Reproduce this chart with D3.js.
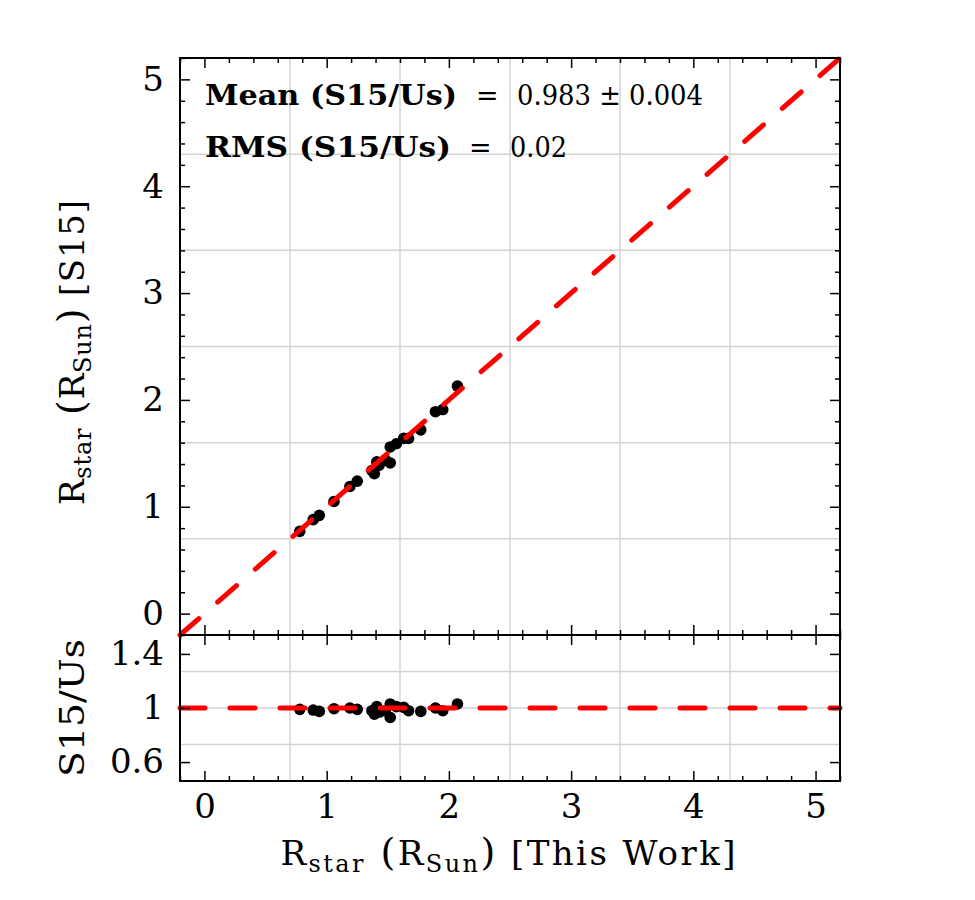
<!DOCTYPE html>
<html>
<head>
<meta charset="utf-8">
<script src="https://cdn.jsdelivr.net/npm/d3@7"></script>
<style>
  body { margin: 0; background: #fff; }
  svg { display: block; }
  text { font-family: "DejaVu Serif", "Liberation Serif", serif; fill: #000; }
</style>
</head>
<body>
<div id="chart"></div>
<script>
// Values
const rThisWork  = [0.78, 0.89, 0.94, 1.06, 1.19, 1.25, 1.37, 1.39, 1.41, 1.43, 1.48, 1.52, 1.52, 1.57, 1.63, 1.67, 1.77, 1.89, 1.95, 2.07];
const rS15       = [0.77, 0.88, 0.92, 1.05, 1.19, 1.24, 1.34, 1.31, 1.42, 1.39, 1.44, 1.41, 1.56, 1.59, 1.64, 1.64, 1.72, 1.89, 1.91, 2.13];
const ratioS15Us = [0.99, 0.985, 0.975, 0.995, 1.0, 0.99, 0.98, 0.955, 1.01, 0.97, 0.98, 0.93, 1.03, 1.01, 1.005, 0.98, 0.975, 1.0, 0.98, 1.03];

const xTickVals = [0, 1, 2, 3, 4, 5];
const yTickValsTop = [0, 1, 2, 3, 4, 5];
const yTickValsBottom = [0.6, 1, 1.4];
const yTickLabelsBottom = ["0.6", "1", "1.4"];

const statNames = ["Mean (S15/Us)", "RMS (S15/Us)"];
const statValues = ["0.983 \u00B1 0.004", "0.02"];

// Layout
const width = 975, height = 900;
const margin = {left: 180, right: 135, top: 58};
const plotW = width - margin.left - margin.right;
const topH = 577, botH = 146;

const svg = d3.select("#chart").append("svg")
    .attr("width", width)
    .attr("height", height);

// Scales
const x = d3.scaleLinear().domain([-0.2, 5.2]).range([0, plotW]);
const yTop = d3.scaleLinear().domain([-0.2, 5.2]).range([topH, 0]);
const yBot = d3.scaleLinear().domain([0.46, 1.54]).range([botH, 0]);

const sixths = d => d3.range(1, 6).map(k => d[0] + k * (d[1] - d[0]) / 6);
const quarters = d => d3.range(1, 4).map(k => d[0] + k * (d[1] - d[0]) / 4);

const minorX = d3.range(-1, 27).filter(i => i % 5 !== 0).map(i => i / 5);
const minorYTop = minorX;

const gTop = svg.append("g").attr("transform", `translate(${margin.left},${margin.top})`);
const gBot = svg.append("g").attr("transform", `translate(${margin.left},${margin.top + topH})`);

function grid(g, xs, ys, yScale, h) {
    g.append("g").selectAll("line").data(xs).join("line")
        .attr("x1", d => x(d)).attr("x2", d => x(d))
        .attr("y1", 0).attr("y2", h)
        .attr("stroke", "#d4d4d4").attr("stroke-width", 1.5);
    g.append("g").selectAll("line").data(ys).join("line")
        .attr("x1", 0).attr("x2", plotW)
        .attr("y1", d => yScale(d)).attr("y2", d => yScale(d))
        .attr("stroke", "#d4d4d4").attr("stroke-width", 1.5);
}

grid(gTop, sixths(x.domain()), sixths(yTop.domain()), yTop, topH);
grid(gBot, sixths(x.domain()), quarters(yBot.domain()), yBot, botH);

// Points
gTop.append("g").selectAll("circle").data(rThisWork).join("circle")
    .attr("cx", d => x(d))
    .attr("cy", (d, i) => yTop(rS15[i]))
    .attr("r", 5.8)
    .attr("fill", "#000");

gBot.append("g").selectAll("circle").data(rThisWork).join("circle")
    .attr("cx", d => x(d))
    .attr("cy", (d, i) => yBot(ratioS15Us[i]))
    .attr("r", 5.8)
    .attr("fill", "#000");

// One-to-one lines
const dash = {stroke: "#ff0000", "stroke-width": 5, "stroke-dasharray": "25,25", "stroke-linecap": "round", fill: "none"};
const oneToOne = gTop.append("line")
    .attr("x1", x(-0.2)).attr("y1", yTop(-0.2))
    .attr("x2", x(5.2)).attr("y2", yTop(5.2));
const unity = gBot.append("line")
    .attr("x1", x(-0.2)).attr("y1", yBot(1))
    .attr("x2", x(5.2)).attr("y2", yBot(1));
for (const k in dash) { oneToOne.attr(k, dash[k]); unity.attr(k, dash[k]); }

// Axes (ticks inward on all sides)
function styleAxis(sel) {
    sel.select(".domain").remove();
    sel.selectAll(".tick line").attr("stroke", "#000").attr("stroke-width", 1.5);
    sel.selectAll(".tick text").style("font-size", "34px").style("font-family", "'DejaVu Serif', serif");
}
function ticksX(g, h, withLabels) {
    g.append("g").attr("transform", `translate(0,${h})`)
        .call(d3.axisBottom(x).tickValues(xTickVals).tickSize(-10).tickPadding(13)
            .tickFormat(withLabels ? d3.format("d") : ""))
        .call(styleAxis);
    g.append("g").attr("transform", `translate(0,${h})`)
        .call(d3.axisBottom(x).tickValues(minorX).tickSize(-5).tickFormat(""))
        .call(styleAxis);
    g.append("g")
        .call(d3.axisTop(x).tickValues(xTickVals).tickSize(-10).tickFormat(""))
        .call(styleAxis);
    g.append("g")
        .call(d3.axisTop(x).tickValues(minorX).tickSize(-5).tickFormat(""))
        .call(styleAxis);
}
ticksX(gTop, topH, false);
ticksX(gBot, botH, true);
gBot.selectAll(".tick text").attr("dy", "0.72em");

gTop.append("g")
    .call(d3.axisLeft(yTop).tickValues(yTickValsTop).tickSize(-10).tickPadding(16).tickFormat(d3.format("d")))
    .call(styleAxis);
gTop.append("g")
    .call(d3.axisLeft(yTop).tickValues(minorYTop).tickSize(-5).tickFormat(""))
    .call(styleAxis);
gTop.append("g").attr("transform", `translate(${plotW},0)`)
    .call(d3.axisRight(yTop).tickValues(yTickValsTop).tickSize(-10).tickFormat(""))
    .call(styleAxis);
gTop.append("g").attr("transform", `translate(${plotW},0)`)
    .call(d3.axisRight(yTop).tickValues(minorYTop).tickSize(-5).tickFormat(""))
    .call(styleAxis);

gBot.append("g")
    .call(d3.axisLeft(yBot).tickValues(yTickValsBottom).tickSize(-10).tickPadding(16)
        .tickFormat((d, i) => yTickLabelsBottom[i]))
    .call(styleAxis);
gBot.append("g").attr("transform", `translate(${plotW},0)`)
    .call(d3.axisRight(yBot).tickValues(yTickValsBottom).tickSize(-10).tickFormat(""))
    .call(styleAxis);

// Spines
gTop.append("rect").attr("width", plotW).attr("height", topH)
    .attr("fill", "none").attr("stroke", "#000").attr("stroke-width", 2);
gBot.append("rect").attr("width", plotW).attr("height", botH)
    .attr("fill", "none").attr("stroke", "#000").attr("stroke-width", 2);

// Stats text: bold name, "=" sign, regular value; widths matched to the figure
const statLayout = [
    {nameW: 252, eqX: 296, valX: 337, valW: 186},
    {nameW: 246, eqX: 289, valX: 330, valW: 57}
];
statNames.forEach((name, i) => {
    const y = 47 + i * 52;
    const L = statLayout[i];
    gTop.append("text")
        .attr("x", 25).attr("y", y)
        .style("font-size", "27px").style("font-weight", "bold")
        .attr("textLength", L.nameW).attr("lengthAdjust", "spacingAndGlyphs")
        .text(name);
    gTop.append("text")
        .attr("x", L.eqX).attr("y", y)
        .style("font-size", "27px")
        .text("=");
    gTop.append("text")
        .attr("x", L.valX).attr("y", y)
        .style("font-size", "27px")
        .attr("textLength", L.valW).attr("lengthAdjust", "spacingAndGlyphs")
        .text(statValues[i]);
});

// Axis labels
function subLabel(sel, parts) {
    parts.forEach(p => {
        sel.append("tspan")
            .attr("dy", p.dy || 0)
            .style("font-size", p.size + "px")
            .text(p.t);
    });
}
const xLabel = svg.append("text")
    .attr("x", margin.left + plotW / 2 - 2)
    .attr("y", 865)
    .attr("text-anchor", "middle")
    .attr("textLength", 455).attr("lengthAdjust", "spacing");
subLabel(xLabel, [
    {t: "R", size: 34}, {t: "star", size: 24, dy: 7},
    {t: " (", size: 38, dy: -7}, {t: "R", size: 34}, {t: "Sun", size: 24, dy: 7},
    {t: ")", size: 38, dy: -7}, {t: " [This Work]", size: 34}
]);

const yLabel = svg.append("text")
    .attr("transform", `translate(84,${margin.top + topH / 2 + 6}) rotate(-90)`)
    .attr("text-anchor", "middle")
    .attr("textLength", 305).attr("lengthAdjust", "spacing");
subLabel(yLabel, [
    {t: "R", size: 34}, {t: "star", size: 24, dy: 7},
    {t: " (", size: 38, dy: -7}, {t: "R", size: 34}, {t: "Sun", size: 24, dy: 7},
    {t: ")", size: 38, dy: -7}, {t: " [S15]", size: 34}
]);

svg.append("text")
    .attr("transform", `translate(84,${margin.top + topH + botH / 2}) rotate(-90)`)
    .attr("text-anchor", "middle")
    .style("font-size", "33px")
    .attr("textLength", 138).attr("lengthAdjust", "spacingAndGlyphs")
    .text("S15/Us");
</script>
</body>
</html>
